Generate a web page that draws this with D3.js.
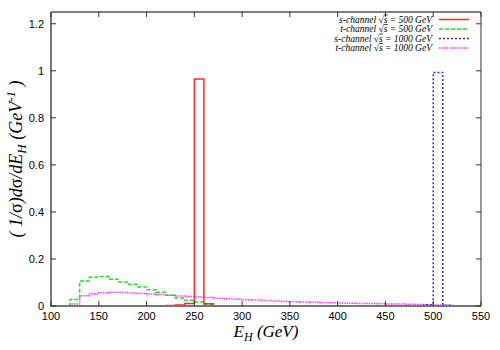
<!DOCTYPE html>
<html>
<head>
<meta charset="utf-8">
<script src="https://cdn.jsdelivr.net/npm/d3@7"></script>
<style>
  body { margin: 0; background: #fff; }
  .tick-label { font-family: "Liberation Sans", Arial, sans-serif; font-size: 11px; fill: #000; }
  .serif { font-family: "Liberation Serif", "Times New Roman", serif; font-style: italic; fill: #000; }
</style>
</head>
<body>
<div id="chart"></div>
<script>
// bin lower edges (GeV), bin width 10
var binStart = 100, binWidth = 10;

// s-channel sqrt(s) = 500 GeV, bins 100..270
var sch500 = [0, 0, 0, 0, 0, 0, 0, 0, 0, 0, 0, 0, 0.002, 0.004, 0.011, 0.965, 0.010];
// t-channel sqrt(s) = 500 GeV, bins 100..270
var tch500 = [0, 0, 0.028, 0.106, 0.122, 0.125, 0.114, 0.102, 0.092, 0.081, 0.069, 0.058, 0.046, 0.034, 0.024, 0.017, 0.005];
// s-channel sqrt(s) = 1000 GeV, bins 100..520
var sch1000 = [0, 0, 0, 0, 0, 0, 0, 0, 0, 0, 0, 0, 0, 0, 0, 0, 0, 0, 0, 0,
               0, 0, 0, 0, 0, 0, 0, 0, 0, 0, 0, 0, 0, 0, 0, 0, 0, 0, 0.001, 0.005, 0.993, 0.003];
// t-channel sqrt(s) = 1000 GeV, bins 100..520
var tch1000 = [0, 0, 0.009, 0.044, 0.051, 0.056, 0.058, 0.057, 0.055, 0.053, 0.051, 0.049, 0.046, 0.043, 0.040, 0.038,
               0.036, 0.033, 0.031, 0.029, 0.027, 0.025, 0.023, 0.021, 0.019, 0.018, 0.017, 0.016, 0.015, 0.014,
               0.013, 0.012, 0.011, 0.011, 0.010, 0.009, 0.008, 0.007, 0.006, 0.005, 0.004, 0.003];

var xTicks = [100, 150, 200, 250, 300, 350, 400, 450, 500, 550];
var yTicks = [0, 0.2, 0.4, 0.6, 0.8, 1, 1.2];

var seriesNames = ["s-channel", "t-channel", "s-channel", "t-channel"];
var seriesEnergy = ["500", "500", "1000", "1000"];
var seriesColors = ["#ff2a2a", "#22e022", "#2a2aff", "#ff3cff"];
var seriesDash = [null, "4,2", "2,2", "1.5,1"];
var seriesData = [sch500, tch500, sch1000, tch1000];

var width = 500, height = 350,
    margin = {top: 12, right: 19, bottom: 44, left: 51};

var svg = d3.select("#chart").append("svg")
    .attr("width", width)
    .attr("height", height);

var x = d3.scaleLinear().domain([100, 550]).range([margin.left, width - margin.right]);
var y = d3.scaleLinear().domain([0, 1.25]).range([height - margin.bottom, margin.top]);

// histogram step path from bin values
function stepPoints(vals) {
    var pts = [[binStart, 0]];
    vals.forEach(function(v, i) {
        pts.push([binStart + i * binWidth, v]);
        pts.push([binStart + (i + 1) * binWidth, v]);
    });
    pts.push([binStart + vals.length * binWidth, 0]);
    return pts;
}

var line = d3.line()
    .x(function(d) { return x(d[0]); })
    .y(function(d) { return y(d[1]); });

// draw series, last first so red is on top
for (var i = seriesData.length - 1; i >= 0; i--) {
    svg.append("path")
        .attr("d", line(stepPoints(seriesData[i])))
        .attr("fill", "none")
        .attr("stroke", seriesColors[i])
        .attr("stroke-width", 1.5)
        .attr("stroke-dasharray", seriesDash[i]);
}

// frame
var x0 = x.range()[0], x1 = x.range()[1], y0 = y.range()[0], y1 = y.range()[1];
svg.append("line").attr("x1", x0).attr("x2", x1).attr("y1", y1).attr("y2", y1).attr("stroke", "#000");
svg.append("line").attr("x1", x1).attr("x2", x1).attr("y1", y1).attr("y2", y0).attr("stroke", "#333");
svg.append("line").attr("x1", x0).attr("x2", x0).attr("y1", y1).attr("y2", y0 + 1).attr("stroke", "#777").attr("stroke-width", 2);
svg.append("line").attr("x1", x0 - 1).attr("x2", x1).attr("y1", y0).attr("y2", y0).attr("stroke", "#777").attr("stroke-width", 2);

// ticks (inward, mirrored)
var tickLen = 5;
xTicks.forEach(function(t) {
    svg.append("line").attr("x1", x(t)).attr("x2", x(t)).attr("y1", y0).attr("y2", y0 - tickLen).attr("stroke", "#333");
    svg.append("line").attr("x1", x(t)).attr("x2", x(t)).attr("y1", y1).attr("y2", y1 + tickLen).attr("stroke", "#333");
    svg.append("text").attr("class", "tick-label")
        .attr("x", x(t)).attr("y", y0 + 14)
        .attr("text-anchor", "middle")
        .text(t);
});
yTicks.forEach(function(t) {
    svg.append("line").attr("x1", x0).attr("x2", x0 + tickLen).attr("y1", y(t)).attr("y2", y(t)).attr("stroke", "#333");
    svg.append("line").attr("x1", x1).attr("x2", x1 - tickLen).attr("y1", y(t)).attr("y2", y(t)).attr("stroke", "#333");
    svg.append("text").attr("class", "tick-label")
        .attr("x", x0 - 7).attr("y", y(t) + 4)
        .attr("text-anchor", "end")
        .text(t);
});

// x axis label
var xl = svg.append("text").attr("class", "serif")
    .attr("x", (x0 + x1) / 2).attr("y", 337)
    .attr("text-anchor", "middle")
    .style("font-size", "17px");
xl.append("tspan").text("E");
xl.append("tspan").attr("dy", 4).style("font-size", "12px").text("H");
xl.append("tspan").attr("dy", -4).text(" (GeV)");

// y axis label
var yl = svg.append("text").attr("class", "serif")
    .attr("transform", "translate(22," + ((y0 + y1) / 2) + ") rotate(-90)")
    .attr("text-anchor", "middle")
    .style("font-size", "18px");
yl.append("tspan").text("( 1/");
yl.append("tspan").style("font-style", "normal").text("σ");
yl.append("tspan").text(")d");
yl.append("tspan").style("font-style", "normal").text("σ");
yl.append("tspan").text("/dE");
yl.append("tspan").attr("dy", 4).style("font-size", "13px").text("H");
yl.append("tspan").attr("dy", -4).text(" (GeV");
yl.append("tspan").attr("dy", -7).style("font-size", "13px").text("-1");
yl.append("tspan").attr("dy", 7).text(" )");

// legend
var legendRight = 432, legendTop = 19.5, legendStep = 9.5;
seriesNames.forEach(function(name, i) {
    var ly = legendTop + i * legendStep;
    var label = name + " √s = " + seriesEnergy[i] + " GeV";
    var t = svg.append("text").attr("class", "serif")
        .attr("x", legendRight).attr("y", ly + 3)
        .attr("text-anchor", "end")
        .style("font-size", "9.5px")
        .text(label);
    // overline over the s under the root sign
    var node = t.node(), k = label.indexOf("√") + 1;
    var start = node.getStartPositionOfChar(k), w = node.getSubStringLength(k, 1);
    svg.append("line")
        .attr("x1", start.x).attr("x2", start.x + w + 0.5)
        .attr("y1", ly - 4.5).attr("y2", ly - 4.5)
        .attr("stroke", "#000").attr("stroke-width", 0.7);
    svg.append("line")
        .attr("x1", 439).attr("x2", 469)
        .attr("y1", ly).attr("y2", ly)
        .attr("stroke", seriesColors[i])
        .attr("stroke-width", 1.5)
        .attr("stroke-dasharray", seriesDash[i]);
});
</script>
</body>
</html>
